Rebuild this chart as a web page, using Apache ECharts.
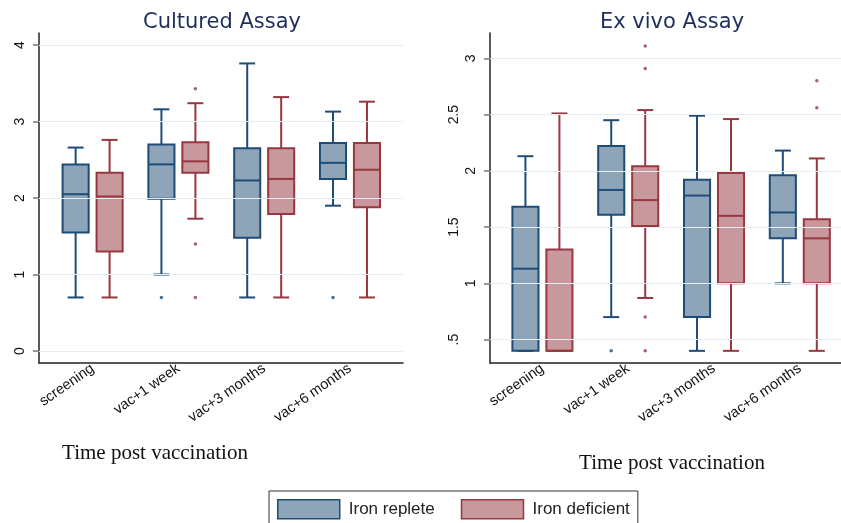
<!DOCTYPE html>
<html><head><meta charset="utf-8">
<script src="https://cdn.jsdelivr.net/npm/echarts@6/dist/echarts.min.js"></script>
<style>html,body{margin:0;padding:0;background:#fff}#c{width:841px;height:523px}</style>
</head><body><div id="c"></div>
<script>
// ---- data ----
const categories = ['screening', 'vac+1 week', 'vac+3 months', 'vac+6 months'];
// each box: [min, Q1, median, Q3, max]
const culturedReplete   = [[0.70,1.55,2.05,2.44,2.66],[1.00,1.99,2.44,2.70,3.16],[0.70,1.48,2.23,2.65,3.76],[1.90,2.25,2.46,2.72,3.13]];
const culturedDeficient = [[0.70,1.30,2.02,2.33,2.76],[1.73,2.33,2.48,2.73,3.24],[0.70,1.79,2.25,2.65,3.32],[0.70,1.88,2.37,2.72,3.26]];
// outliers: [category index, value]
const culturedRepleteOutliers   = [[1,0.70],[3,0.70]];
const culturedDeficientOutliers = [[1,3.43],[1,1.40],[1,0.70]];
const exvivoReplete   = [[0.40,0.40,1.13,1.68,2.13],[0.70,1.61,1.83,2.22,2.45],[0.40,0.70,1.78,1.92,2.49],[1.00,1.40,1.63,1.96,2.18]];
const exvivoDeficient = [[0.40,0.40,0.40,1.30,2.51],[0.87,1.51,1.74,2.04,2.54],[0.40,1.00,1.60,1.98,2.46],[0.40,1.00,1.40,1.57,2.11]];
const exvivoRepleteOutliers   = [[1,0.40]];
const exvivoDeficientOutliers = [[1,3.11],[1,2.91],[1,0.70],[1,0.40],[3,2.80],[3,2.56]];
const culturedTicks = [0, 1, 2, 3, 4];
const exvivoTicks = [0.5, 1, 1.5, 2, 2.5, 3];
const seriesNames = ['Iron replete', 'Iron deficient'];
const titles = ['Cultured Assay', 'Ex vivo Assay'];
const xTitle = 'Time post vaccination';

// ---- styles ----
const COLORS = [
  { fill: '#8da4b9', stroke: '#1f4b77' },
  { fill: '#c8989c', stroke: '#973841' }
];
const OFFSET = 0.198, HALF_BOX = 0.152, HALF_CAP = 0.093;

function makeRender(side, c) {
  return function (params, api) {
    const i = api.value(0);
    const unit = api.size([1, 0])[0];
    const cx = api.coord([i, 0])[0] + side * OFFSET * unit;
    const hw = HALF_BOX * unit, cw = HALF_CAP * unit;
    const y = k => api.coord([i, api.value(k)])[1];
    const yMin = y(1), yQ1 = y(2), yMed = y(3), yQ3 = y(4), yMax = y(5);
    const ls = { stroke: c.stroke, lineWidth: 2, fill: null };
    return { type: 'group', children: [
      { type: 'line', shape: { x1: cx, y1: yQ3, x2: cx, y2: yMax }, style: ls },
      { type: 'line', shape: { x1: cx, y1: yQ1, x2: cx, y2: yMin }, style: ls },
      { type: 'line', shape: { x1: cx - cw, y1: yMax, x2: cx + cw, y2: yMax }, style: ls },
      { type: 'line', shape: { x1: cx - cw, y1: yMin, x2: cx + cw, y2: yMin }, style: ls },
      { type: 'rect', shape: { x: cx - hw, y: yQ3, width: 2 * hw, height: yQ1 - yQ3 }, style: { fill: c.fill, stroke: c.stroke, lineWidth: 2 } },
      { type: 'line', shape: { x1: cx - hw, y1: yMed, x2: cx + hw, y2: yMed }, style: ls }
    ]};
  };
}

const panels = [
  { boxes: [culturedReplete, culturedDeficient], outs: [culturedRepleteOutliers, culturedDeficientOutliers], ticks: culturedTicks,
    grid: { left: 39, top: 33, width: 364, height: 330 }, xMin: -0.625, xMax: 3.618, yMin: -0.157, yMax: 4.158 },
  { boxes: [exvivoReplete, exvivoDeficient], outs: [exvivoRepleteOutliers, exvivoDeficientOutliers], ticks: exvivoTicks,
    grid: { left: 490, top: 33, width: 351, height: 330 }, xMin: -0.611, xMax: 3.48, yMin: 0.292, yMax: 3.225 }
];

function yLabel(v) {
  const s = v === 0.5 ? '.5' : String(v);
  return s.indexOf('.') >= 0 ? '{d|' + s + '}' : '{n|' + s + '}';
}

const option = {
  animation: false,
  backgroundColor: '#ffffff',
  grid: panels.map(p => p.grid),
  xAxis: panels.map((p, gi) => ({
    type: 'value', gridIndex: gi, min: p.xMin, max: p.xMax,
    axisLine: { show: true, onZero: false, lineStyle: { color: '#222', width: 1.5 } },
    axisTick: { show: false }, splitLine: { show: false },
    axisLabel: { customValues: categories.map((c, i) => i), formatter: v => categories[Math.round(v)],
      rotate: 35, margin: 4, fontSize: 14.5, color: '#111', fontFamily: 'Liberation Sans' }
  })),
  yAxis: panels.map((p, gi) => ({
    type: 'value', gridIndex: gi, min: p.yMin, max: p.yMax,
    axisLine: { show: true, onZero: false, lineStyle: { color: '#222', width: 1.5 } },
    axisTick: { show: true, customValues: p.ticks, length: 6, lineStyle: { color: '#777', width: 1.5 } },
    splitLine: { show: false },
    axisLabel: { customValues: p.ticks, rotate: 90, margin: 12, fontSize: 14, color: '#111', fontFamily: 'Liberation Sans',
      formatter: yLabel,
      rich: { n: { fontSize: 14, color: '#111', fontFamily: 'Liberation Sans' },
              d: { fontSize: 14, color: '#111', fontFamily: 'Liberation Sans', padding: [0, 0, 17, 0] } } }
  })),
  legend: {
    left: 269, top: 491, orient: 'horizontal', itemWidth: 62, itemHeight: 19, itemGap: 26,
    padding: [8, 8, 8, 8], borderColor: '#333', borderWidth: 1, borderRadius: 0,
    textStyle: { fontSize: 17, color: '#222', fontFamily: 'Liberation Sans', padding: [0, 0, 0, 4] },
    data: seriesNames.map((n, k) => ({ name: n, icon: 'rect', itemStyle: { color: COLORS[k].fill, borderColor: COLORS[k].stroke, borderWidth: 1.5 } }))
  },
  graphic: [
    { type: 'text', x: 222, y: 23, style: { text: titles[0], align: 'center', verticalAlign: 'middle', font: '21px "DejaVu Sans"', fill: '#1f2f5c' } },
    { type: 'text', x: 672, y: 23, style: { text: titles[1], align: 'center', verticalAlign: 'middle', font: '21px "DejaVu Sans"', fill: '#1f2f5c' } },
    { type: 'text', x: 155, y: 453, style: { text: xTitle, align: 'center', verticalAlign: 'middle', font: '21px "Liberation Serif"', fill: '#111' } },
    { type: 'text', x: 672, y: 463, style: { text: xTitle, align: 'center', verticalAlign: 'middle', font: '21px "Liberation Serif"', fill: '#111' } }
  ],
  series: []
};

panels.forEach((p, gi) => {
  option.series.push({
    type: 'line', name: 'grid' + gi, xAxisIndex: gi, yAxisIndex: gi, data: [], z: 1, silent: true,
    markLine: { silent: true, symbol: 'none', label: { show: false }, animation: false,
      lineStyle: { color: '#e5eef0', width: 1, type: 'solid' },
      data: p.ticks.map(v => ({ yAxis: v })) }
  });
  [0, 1].forEach(k => {
    const side = k === 0 ? -1 : 1;
    option.series.push({
      type: 'custom', name: seriesNames[k], xAxisIndex: gi, yAxisIndex: gi, z: 3,
      renderItem: makeRender(side, COLORS[k]),
      itemStyle: { color: COLORS[k].fill, borderColor: COLORS[k].stroke },
      encode: { x: 0, y: [1, 2, 3, 4, 5] },
      data: p.boxes[k].map((d, i) => [i].concat(d))
    });
    option.series.push({
      type: 'scatter', name: seriesNames[k] + ' outliers', xAxisIndex: gi, yAxisIndex: gi, z: 4,
      symbol: 'circle', symbolSize: 3.5, itemStyle: { color: COLORS[k].stroke },
      data: p.outs[k].map(([i, v]) => [i + side * OFFSET, v])
    });
  });
});

const chart = echarts.init(document.getElementById('c'), null, { renderer: 'canvas' });
chart.setOption(option);
</script>
</body></html>
